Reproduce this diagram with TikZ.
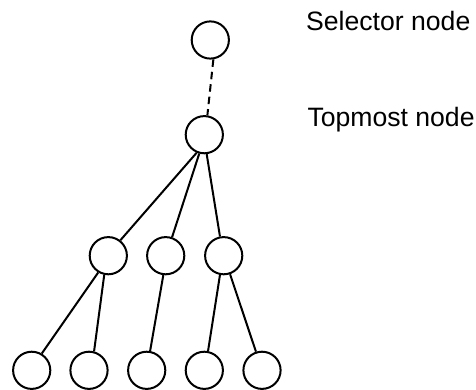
\documentclass[tikz,border=0pt]{standalone}
\usepackage{fontspec}
\setmainfont{Liberation Sans}
\begin{document}
\begin{tikzpicture}[x=1pt,y=-1pt,
  treenode/.style={draw,circle,line width=2pt,minimum size=37.2pt,inner sep=0pt},
  edge/.style={line width=2pt},
  label/.style={anchor=base west,inner sep=0pt,font=\fontsize{26.6}{30}\selectfont}]
\useasboundingbox (0,0) rectangle (476,390);
\node[treenode] (sel) at (210.3,40) {};
\node[treenode] (top) at (204.3,134.7) {};
\node[treenode] (a) at (108.3,255.7) {};
\node[treenode] (b) at (165.7,255.7) {};
\node[treenode] (c) at (223.7,255.7) {};
\node[treenode] (a1) at (31.7,370.3) {};
\node[treenode] (a2) at (89,370.3) {};
\node[treenode] (b1) at (146.7,370.3) {};
\node[treenode] (c1) at (204.3,370.3) {};
\node[treenode] (c2) at (262,370.3) {};
\draw[edge,dash pattern=on 7.5pt off 5pt] (sel.279) -- (top.81);
\draw[edge] (top.247) -- (a.52);
\draw[edge] (top.255) -- (b.71);
\draw[edge] (top.277) -- (c.101);
\draw[edge] (a.239) -- (a1.59);
\draw[edge] (a.258) -- (a2.75);
\draw[edge] (b.263) -- (b1.80);
\draw[edge] (c.259) -- (c1.79);
\draw[edge] (c.289) -- (c2.108);
\node[label] (tsel) at (306,30.7) {Selector node};
\node[label] (ttop) at (307.3,126.7) {Topmost node};
\end{tikzpicture}
\end{document}
